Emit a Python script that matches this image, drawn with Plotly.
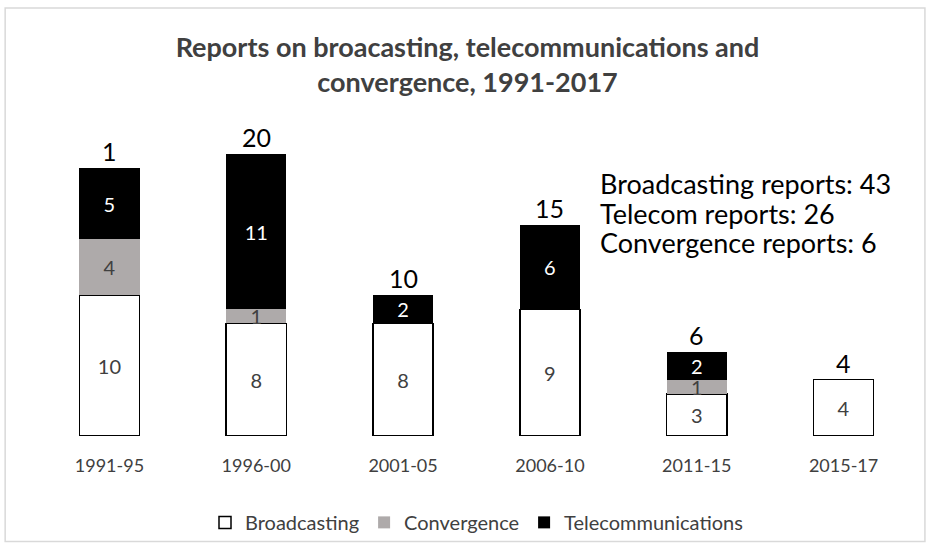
import plotly.graph_objects as go

categories = ["1991-95", "1996-00", "2001-05", "2006-10", "2011-15", "2015-17"]
broadcasting = [10, 8, 8, 9, 3, 4]
convergence = [4, 1, 0, 0, 1, 0]
telecom = [5, 11, 2, 6, 2, 0]
total_labels = ["1", "20", "10", "15", "6", "4"]
summary_lines = ["Broadcasting reports: 43", "Telecom reports: 26", "Convergence reports: 6"]

FONT = "Lato"

def seg_text(vals):
    return [str(v) if v else "" for v in vals]

fig = go.Figure()
fig.add_trace(go.Bar(
    name="Broadcasting", x=categories, y=broadcasting,
    marker=dict(color="white", line=dict(color="black", width=1.5)),
    text=seg_text(broadcasting), textposition="inside", insidetextanchor="middle",
    textangle=0, textfont=dict(color="#404040", size=20, family=FONT),
))
fig.add_trace(go.Bar(
    name="Convergence", x=categories, y=convergence,
    marker=dict(color="#AEAAAA", line=dict(width=0)),
    text=seg_text(convergence), textposition="inside", insidetextanchor="middle",
    textangle=0, textfont=dict(color="#404040", size=20, family=FONT),
))
fig.add_trace(go.Bar(
    name="Telecommunications", x=categories, y=telecom,
    marker=dict(color="black", line=dict(width=0)),
    text=seg_text(telecom), textposition="inside", insidetextanchor="middle",
    textangle=0, textfont=dict(color="white", size=20, family=FONT),
))

totals = [b + c + t for b, c, t in zip(broadcasting, convergence, telecom)]
for cat, tot, lab in zip(categories, totals, total_labels):
    fig.add_annotation(x=cat, y=tot, text=lab, showarrow=False, yanchor="bottom",
                       yshift=0, font=dict(size=25, color="black", family=FONT))

for i, line in enumerate(summary_lines):
    fig.add_annotation(xref="paper", yref="paper", x=0.638, y=0.717 - i * 0.084,
                       text=line, showarrow=False, xanchor="left", yanchor="middle",
                       font=dict(size=27, color="black", family=FONT))

fig.add_shape(type="rect", xref="paper", yref="paper", x0=-0.035, x1=1.009, y0=-0.30, y1=1.216,
              line=dict(color="#D9D9D9", width=1.5), fillcolor="rgba(0,0,0,0)", layer="below")

fig.update_layout(
    width=935, height=554,
    barmode="stack", bargap=0.59,
    paper_bgcolor="white", plot_bgcolor="white",
    margin=dict(l=36, r=18, t=84, b=113),
    title=dict(text="<b>Reports on broacasting, telecommunications and<br>convergence, 1991-2017</b>",
               x=0.5, xanchor="center", y=0.898, yanchor="top",
               font=dict(size=27, color="#404040", family=FONT)),
    showlegend=True,
    legend=dict(orientation="h", x=0.5, xanchor="center", y=-0.19, yanchor="top",
                bgcolor="rgba(0,0,0,0)",
                font=dict(size=20, color="#404040", family=FONT), traceorder="normal",
                itemwidth=30),
    uniformtext=dict(minsize=20, mode="show"),
    xaxis=dict(type="category", showgrid=False, showline=False, zeroline=False, ticks="",
               ticklabelstandoff=17,
               tickfont=dict(size=18, color="#404040", family=FONT)),
    yaxis=dict(range=[0, 25], showgrid=False, showline=False, zeroline=False,
               showticklabels=False, ticks=""),
)

fig.write_html("out.html")
